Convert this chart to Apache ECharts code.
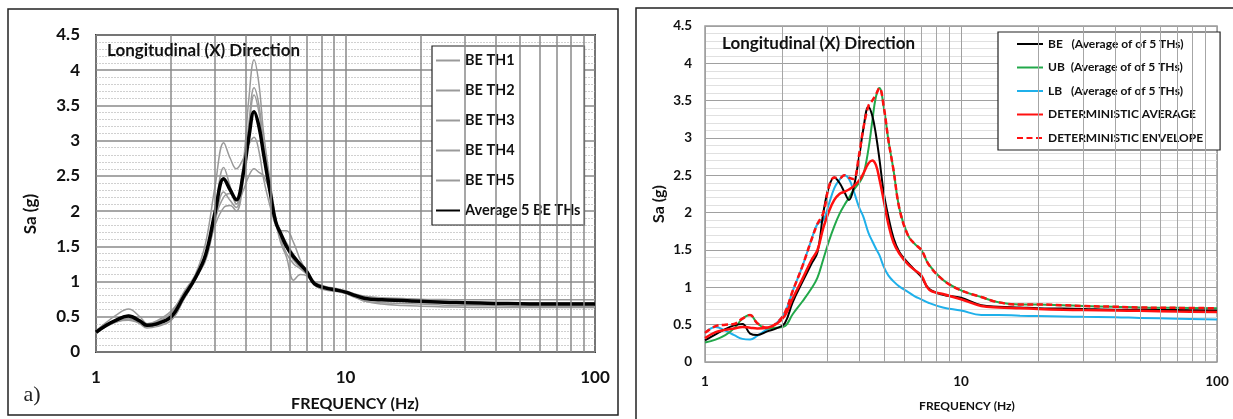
<!DOCTYPE html>
<html>
<head>
<meta charset="utf-8">
<script src="https://cdn.jsdelivr.net/npm/echarts@6/dist/echarts.min.js"></script>
<style>
html,body{margin:0;padding:0;background:#fff;}
#chart{width:1233px;height:419px;}
</style>
</head>
<body>
<div id="chart"></div>
<script>
// ---------- Left panel (a) data ----------
const FL = [1, 1.1, 1.2, 1.35, 1.5, 1.6, 1.75, 2.0, 2.25, 2.5, 2.75, 3.0, 3.25, 3.45, 3.65, 3.9, 4.1, 4.3, 4.5, 4.7, 5.0, 5.25, 5.5, 5.8, 6.2, 6.6, 7.0, 7.5, 8.3, 9.2, 10, 11, 12, 14, 17, 20, 25, 30, 40, 50, 65, 80, 100];
const TH1 = [0.27,0.36,0.42,0.47,0.42,0.36,0.42,0.55,0.85,1.10,1.55,2.35,2.97,2.75,2.60,2.75,2.95,3.05,2.85,2.45,2.05,1.80,1.72,1.72,1.55,1.30,1.15,1.00,0.93,0.90,0.87,0.82,0.79,0.77,0.76,0.75,0.745,0.74,0.74,0.74,0.74,0.74,0.74];
const TH2 = [0.30,0.42,0.52,0.61,0.50,0.40,0.38,0.45,0.75,1.05,1.35,2.00,2.62,2.35,2.10,2.70,3.60,4.15,3.80,3.10,2.40,1.90,1.60,1.40,1.25,1.18,1.10,0.97,0.92,0.89,0.86,0.80,0.76,0.74,0.73,0.72,0.71,0.705,0.70,0.70,0.70,0.70,0.70];
const TH3 = [0.26,0.38,0.46,0.52,0.46,0.40,0.44,0.58,0.82,1.05,1.30,1.85,2.27,2.15,2.05,2.55,3.25,3.75,3.50,2.95,2.30,1.85,1.55,1.35,1.02,1.10,1.08,0.96,0.90,0.87,0.84,0.79,0.75,0.73,0.72,0.71,0.70,0.69,0.685,0.68,0.68,0.68,0.68];
const TH4 = [0.28,0.37,0.44,0.48,0.40,0.34,0.36,0.45,0.75,1.02,1.35,1.80,2.05,2.08,2.00,2.45,3.15,3.65,3.40,2.90,2.30,1.85,1.62,1.48,1.30,1.20,1.12,0.95,0.88,0.86,0.83,0.77,0.72,0.70,0.69,0.68,0.665,0.66,0.655,0.65,0.65,0.65,0.65];
const TH5 = [0.29,0.39,0.43,0.45,0.41,0.38,0.42,0.50,0.78,1.05,1.38,1.90,2.20,2.25,2.10,2.30,2.50,2.60,2.55,2.50,2.25,1.85,1.70,1.55,1.38,1.25,1.15,0.98,0.92,0.88,0.84,0.78,0.72,0.68,0.66,0.65,0.64,0.635,0.63,0.63,0.63,0.63,0.63];
const AVG5 = [0.28,0.38,0.45,0.51,0.44,0.38,0.40,0.50,0.79,1.05,1.38,1.98,2.46,2.30,2.16,2.55,3.05,3.41,3.20,2.80,2.25,1.85,1.68,1.50,1.35,1.24,1.14,0.97,0.91,0.88,0.85,0.80,0.76,0.74,0.73,0.72,0.705,0.70,0.69,0.685,0.68,0.68,0.68];

// ---------- Right panel data ----------
const FR = [1, 1.1, 1.2, 1.3, 1.4, 1.5, 1.6, 1.75, 1.9, 2.05, 2.2, 2.4, 2.6, 2.75, 2.9, 3.05, 3.2, 3.35, 3.5, 3.65, 3.8, 4.0, 4.15, 4.35, 4.5, 4.65, 4.8, 5.0, 5.2, 5.45, 5.75, 6.2, 6.6, 7.0, 7.5, 8.5, 10, 12, 14, 17, 20, 25, 30, 40, 50, 70, 100];
const BE = [0.29,0.37,0.44,0.49,0.51,0.38,0.36,0.41,0.45,0.52,0.80,1.07,1.31,1.47,2.00,2.35,2.47,2.40,2.28,2.17,2.32,2.75,3.11,3.42,3.30,3.05,2.72,2.25,1.95,1.66,1.47,1.33,1.23,1.14,0.98,0.90,0.86,0.76,0.74,0.73,0.72,0.715,0.71,0.70,0.70,0.695,0.69];
const UB = [0.26,0.30,0.36,0.45,0.58,0.63,0.52,0.45,0.46,0.48,0.64,0.81,0.98,1.13,1.38,1.62,1.82,1.98,2.10,2.20,2.30,2.40,2.50,2.85,3.22,3.55,3.67,3.40,2.98,2.57,2.05,1.70,1.58,1.50,1.30,1.10,0.96,0.87,0.80,0.77,0.77,0.76,0.75,0.74,0.73,0.725,0.72];
const LB = [0.39,0.47,0.42,0.36,0.31,0.30,0.35,0.44,0.52,0.66,0.95,1.28,1.63,1.85,1.90,2.12,2.33,2.44,2.50,2.45,2.30,2.07,1.95,1.73,1.62,1.52,1.43,1.27,1.16,1.08,1.01,0.94,0.88,0.84,0.79,0.73,0.69,0.63,0.63,0.62,0.615,0.61,0.605,0.60,0.59,0.58,0.57];
const DET_AVG = [0.32,0.40,0.43,0.45,0.47,0.46,0.45,0.46,0.51,0.62,0.85,1.11,1.36,1.50,1.80,2.02,2.17,2.25,2.28,2.31,2.35,2.43,2.52,2.66,2.70,2.64,2.45,2.15,1.85,1.60,1.45,1.31,1.23,1.16,0.97,0.91,0.84,0.75,0.73,0.72,0.71,0.70,0.695,0.69,0.685,0.675,0.67];
const DET_ENV = [0.39,0.48,0.50,0.51,0.58,0.63,0.52,0.46,0.52,0.66,0.95,1.28,1.63,1.85,2.00,2.35,2.47,2.46,2.50,2.47,2.45,2.78,3.12,3.43,3.50,3.58,3.67,3.40,2.98,2.57,2.05,1.70,1.58,1.50,1.30,1.10,0.96,0.87,0.80,0.77,0.77,0.76,0.75,0.74,0.73,0.725,0.72];

// ---------- Axis ticks ----------
const Y_MIN = 0, Y_MAX = 4.5, Y_STEP = 0.5;
const X_MIN = 1, X_MAX = 100;
const MINOR_X = [2,3,4,5,6,7,8,9,20,30,40,50,60,70,80,90];

const TITLE = 'Longitudinal (X) Direction';
const FONT = 'Lato';

function pairs(xs, ys){ return xs.map((x,i)=>[x, ys[i]]); }

const chart = echarts.init(document.getElementById('chart'), null, {renderer:'canvas'});

function gridLinesSeries(idx, color, width){
  return {
    name: '_grid' + idx, type: 'line', xAxisIndex: idx, yAxisIndex: idx,
    data: [[X_MIN, 0], [X_MAX, 0]], symbol: 'none', silent: true, z: 1,
    lineStyle: {opacity: 0}, legendHoverLink: false,
    markLine: {
      silent: true, symbol: ['none','none'], label: {show:false},
      lineStyle: {color: color, width: width, type: 'solid'},
      emphasis: {disabled: true},
      data: MINOR_X.map(v => ({xAxis: v}))
    }
  };
}

function lineS(name, idx, xs, ys, color, width, extra){
  return Object.assign({
    name: name, type: 'line', xAxisIndex: idx, yAxisIndex: idx,
    data: pairs(xs, ys), symbol: 'none', showSymbol: false, smooth: 0.4,
    z: 3,
    lineStyle: {color: color, width: width},
    itemStyle: {color: color}
  }, extra || {});
}

const option = {
  animation: false,
  backgroundColor: '#fff',
  textStyle: {fontFamily: FONT},
  grid: [
    {left: 96, top: 35, width: 499, height: 317, show: true, borderColor: '#3a3a3a', borderWidth: 2, backgroundColor: 'transparent'},
    {left: 705, top: 26, width: 512, height: 336, show: true, borderColor: '#9a9a9a', borderWidth: 1.5, backgroundColor: 'transparent'}
  ],
  xAxis: [
    {gridIndex: 0, type: 'log', logBase: 10, min: X_MIN, max: X_MAX,
     axisLine: {show:false}, axisTick: {show:false},
     axisLabel: {fontFamily: FONT, fontWeight: 'bold', fontSize: 17, color: '#111', margin: 17},
     splitLine: {show: true, lineStyle: {color: '#8a8a8a', width: 1.5}}},
    {gridIndex: 1, type: 'log', logBase: 10, min: X_MIN, max: X_MAX,
     axisLine: {show:false}, axisTick: {show:false},
     axisLabel: {fontFamily: FONT, fontWeight: 'bold', fontSize: 13.5, color: '#111', margin: 13},
     splitLine: {show: true, lineStyle: {color: '#a0a0a0', width: 1}}}
  ],
  yAxis: [
    {gridIndex: 0, type: 'value', min: Y_MIN, max: Y_MAX, interval: Y_STEP,
     axisLine: {show:false}, axisTick: {show:false},
     axisLabel: {fontFamily: FONT, fontWeight: 'bold', fontSize: 17, color: '#111', margin: 16},
     splitLine: {show: true, lineStyle: {color: '#8a8a8a', width: 1.5}},
     minorTick: {show: false, splitNumber: 5},
     minorSplitLine: {show: true, lineStyle: {color: '#d0d0d0', width: 1, type: [2, 1]}}},
    {gridIndex: 1, type: 'value', min: Y_MIN, max: Y_MAX, interval: Y_STEP,
     axisLine: {show:false}, axisTick: {show:false},
     axisLabel: {fontFamily: FONT, fontWeight: 'bold', fontSize: 13.5, color: '#111', margin: 13},
     splitLine: {show: true, lineStyle: {color: '#a0a0a0', width: 1}},
     minorTick: {show: false, splitNumber: 5},
     minorSplitLine: {show: true, lineStyle: {color: '#e0e0e0', width: 1}}}
  ],
  legend: [
    {data: ['BE TH1','BE TH2','BE TH3','BE TH4','BE TH5','Average 5 BE THs'],
     orient: 'vertical', left: 432, top: 46, itemWidth: 24, itemHeight: 14, itemGap: 15,
     padding: [7, 4, 7, 3], borderColor: '#222', borderWidth: 1.2, backgroundColor: '#fff',
     selectedMode: false, itemStyle: {opacity: 0},
     textStyle: {fontFamily: FONT, fontWeight: 'bold', fontSize: 14.5, lineHeight: 14, color: '#111'}},
    {data: ['BE   (Average of of 5 THs)','UB  (Average of of 5 THs)','LB   (Average of of 5 THs)','DETERMINISTIC AVERAGE','DETERMINISTIC ENVELOPE'],
     orient: 'vertical', left: 998, top: 32, itemWidth: 26, itemHeight: 14, itemGap: 9.5,
     padding: [5, 17, 5, 18], borderColor: '#222', borderWidth: 1.2, backgroundColor: '#fff',
     selectedMode: false, itemStyle: {opacity: 0},
     textStyle: {fontFamily: FONT, fontWeight: 'bold', fontSize: 12, lineHeight: 14, color: '#111'}}
  ],
  series: [
    gridLinesSeries(0, '#8a8a8a', 1.5),
    gridLinesSeries(1, '#a6a6a6', 1),
    lineS('BE TH1', 0, FL, TH1, '#9a9a9a', 1.5),
    lineS('BE TH2', 0, FL, TH2, '#9a9a9a', 1.5),
    lineS('BE TH3', 0, FL, TH3, '#9a9a9a', 1.5),
    lineS('BE TH4', 0, FL, TH4, '#9a9a9a', 1.5),
    lineS('BE TH5', 0, FL, TH5, '#9a9a9a', 1.5),
    lineS('Average 5 BE THs', 0, FL, AVG5, '#000000', 3.5, {z: 4}),
    lineS('LB   (Average of of 5 THs)', 1, FR, LB, '#1fb0ea', 2),
    lineS('UB  (Average of of 5 THs)', 1, FR, UB, '#22a84a', 2),
    lineS('BE   (Average of of 5 THs)', 1, FR, BE, '#000000', 2),
    lineS('DETERMINISTIC AVERAGE', 1, FR, DET_AVG, '#ff1010', 2.5, {z: 4}),
    lineS('DETERMINISTIC ENVELOPE', 1, FR, DET_ENV, '#ff1010', 2.5, {z: 5, lineStyle: {color: '#ff1010', width: 2.5, type: [6, 3.5]}})
  ],
  graphic: [
    {type: 'rect', silent: true, z: 0, shape: {x: 8, y: 9, width: 610, height: 406}, style: {fill: 'none', stroke: '#222', lineWidth: 1.5}},
    {type: 'rect', silent: true, z: 0, shape: {x: 636, y: 8, width: 620, height: 440}, style: {fill: 'none', stroke: '#222', lineWidth: 1.5}},
    {type: 'text', silent: true, z: 10, left: 107, top: 42, style: {text: TITLE, font: 'bold 17px ' + FONT, fill: '#111'}},
    {type: 'text', silent: true, z: 10, left: 722, top: 35, style: {text: TITLE, font: 'bold 17px ' + FONT, fill: '#111'}},
    {type: 'text', silent: true, z: 10, x: 355, y: 404, style: {text: 'FREQUENCY (Hz)', font: 'bold 16px ' + FONT, fill: '#111', align: 'center', verticalAlign: 'middle'}},
    {type: 'text', silent: true, z: 10, x: 967, y: 406, style: {text: 'FREQUENCY (Hz)', font: 'bold 12px ' + FONT, fill: '#111', align: 'center', verticalAlign: 'middle'}},
    {type: 'text', silent: true, z: 10, x: 31, y: 214, rotation: Math.PI/2, style: {text: 'Sa (g)', font: 'bold 17px ' + FONT, fill: '#111', align: 'center', verticalAlign: 'middle'}},
    {type: 'text', silent: true, z: 10, x: 659, y: 204, rotation: Math.PI/2, style: {text: 'Sa (g)', font: 'bold 16px ' + FONT, fill: '#111', align: 'center', verticalAlign: 'middle'}},
    {type: 'text', silent: true, z: 10, x: 32, y: 395, style: {text: 'a)', font: '22px "Liberation Serif"', fill: '#222', align: 'center', verticalAlign: 'middle'}}
  ]
};
chart.setOption(option);
</script>
</body>
</html>
